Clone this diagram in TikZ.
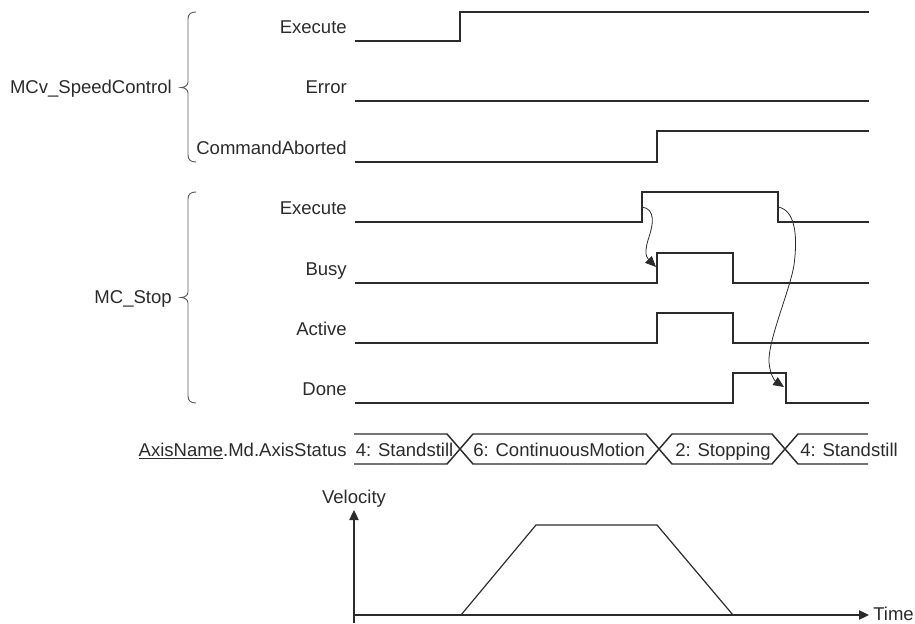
\documentclass[tikz,border=0pt]{standalone}
\usepackage{fontspec}
\setmainfont{Liberation Sans}
\usetikzlibrary{arrows.meta}
\definecolor{ink}{HTML}{2B2B2B}
\definecolor{bracegray}{HTML}{5A5A5A}
\begin{document}
\begin{tikzpicture}[x=0.75pt,y=-0.75pt,
  font=\fontsize{13.9}{16}\selectfont,
  sig/.style={draw=ink, line width=1.2pt, line join=miter},
  bus/.style={draw=ink, line width=1.1pt, line join=miter},
  lbl/.style={anchor=base east, inner sep=0pt, text=ink},
  stxt/.style={anchor=base west, inner sep=0pt, text=ink},
  grp/.style={draw=bracegray, line width=0.7pt},
  flow/.style={draw=ink, line width=0.6pt, -{Triangle[length=8pt,width=7pt]}},
  axis/.style={draw=ink, line width=0.8pt, -{Triangle[length=7.5pt,width=7pt]}},
  velo/.style={draw=ink, line width=0.9pt, line join=miter}]
\useasboundingbox (0,0) rectangle (915,624);

% ---- group labels and braces
\node[lbl] (gMCv) at (172,93.5) {MCv\_SpeedControl};
\node[lbl] (gStop) at (172,303.5) {MC\_Stop};
\coordinate (bMCvB) at (196,162);
\coordinate (bMCvT) at (196,12);
\coordinate (bStopB) at (196,403);
\coordinate (bStopT) at (196,192);
\draw[grp] (bMCvB) .. controls (191,162) and (188,160) .. (188,155) -- (188,93)
  .. controls (188,90) and (185,87.5) .. (181,87.5)
  .. controls (185,87.5) and (188,85) .. (188,82) -- (188,19)
  .. controls (188,14) and (191,12) .. (bMCvT);
\draw[grp] (bStopB) .. controls (191,403) and (188,401) .. (188,396) -- (188,303)
  .. controls (188,300) and (185,297.5) .. (181,297.5)
  .. controls (185,297.5) and (188,295) .. (188,292) -- (188,199)
  .. controls (188,194) and (191,192) .. (bStopT);

% ---- signal labels
\node[lbl] (lExec1) at (347,33.5) {Execute};
\node[lbl] (lErr) at (347,93.5) {Error};
\node[lbl] (lCA) at (347,154.5) {CommandAborted};
\node[lbl] (lExec2) at (347,214.5) {Execute};
\node[lbl] (lBusy) at (347,275.5) {Busy};
\node[lbl] (lAct) at (347,335.5) {Active};
\node[lbl] (lDone) at (347,395.5) {Done};

% ---- signals
\draw[sig] (355,41) -- (460,41) -- (460,12) -- (869,12);
\draw[sig] (355,101) -- (869,101);
\draw[sig] (355,162) -- (657,162) -- (657,131) -- (869,131);
\draw[sig] (355,222) -- (642,222) -- (642,192) -- (778,192) -- (778,222) -- (869,222);
\draw[sig] (355,283) -- (657,283) -- (657,253) -- (733,253) -- (733,283) -- (869,283);
\draw[sig] (355,343) -- (657,343) -- (657,313) -- (733,313) -- (733,343) -- (869,343);
\draw[sig] (355,403) -- (733,403) -- (733,373) -- (786,373) -- (786,403) -- (869,403);

% ---- cause/effect arrows
\coordinate (a1s) at (642,207);
\coordinate (a1e) at (656,267);
\draw[flow] (a1s) .. controls (656,209) and (653,225) .. (649,237)
  .. controls (645,249) and (645,256) .. (a1e);
\coordinate (a2s) at (778,207);
\coordinate (a2e) at (784,387);
\draw[flow] (a2s) .. controls (795,210) and (798,235) .. (794,265)
  .. controls (790,290) and (768,340) .. (769,362)
  .. controls (770,375) and (775,381) .. (a2e);

% ---- axis status bus
\node[lbl] (lAxis) at (347,456.5) {\underline{AxisName}.Md.AxisStatus};
\draw[bus] (354,434) -- (447,434) -- (473,464) -- (646,464) -- (672,434) -- (772,434) -- (798,464) -- (868,464);
\draw[bus] (354,464) -- (447,464) -- (473,434) -- (646,434) -- (672,464) -- (772,464) -- (798,434) -- (868,434);
\node[stxt] (s1) at (355.5,456.5) {4: Standstill};
\node[stxt] (s2) at (473,456.5) {6: ContinuousMotion};
\node[stxt] (s3) at (675,456.5) {2: Stopping};
\node[stxt] (s4) at (800,456.5) {4: Standstill};

% ---- velocity graph
\coordinate (vBot) at (354,623);
\coordinate (vTop) at (354,510);
\coordinate (tL) at (354,615);
\coordinate (tR) at (869,615);
\draw[axis] (vBot) -- (vTop);
\draw[axis] (tL) -- (tR);
\node[anchor=base, inner sep=0pt, text=ink] (lVel) at (354,503.5) {Velocity};
\node[stxt] (lTime) at (873,620.5) {Time};
\draw[velo] (461,615) -- (536,525) -- (657,525) -- (733,615);
\end{tikzpicture}
\end{document}
